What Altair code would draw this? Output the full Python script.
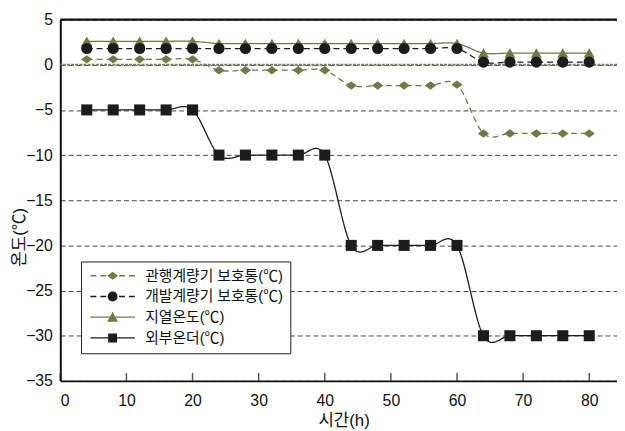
import altair as alt
import pandas as pd

# ---- data ----
hours = [4, 8, 12, 16, 20, 24, 28, 32, 36, 40, 44, 48, 52, 56, 60, 64, 68, 72, 76, 80]
gwanhaeng = [0.6, 0.6, 0.6, 0.6, 0.6, -0.6, -0.6, -0.6, -0.6, -0.6,
             -2.3, -2.3, -2.3, -2.3, -2.2, -7.6, -7.6, -7.6, -7.6, -7.6]
gaebal = [1.8, 1.8, 1.8, 1.8, 1.8, 1.8, 1.8, 1.8, 1.8, 1.8,
          1.8, 1.8, 1.8, 1.8, 1.8, 0.3, 0.3, 0.3, 0.3, 0.3]
jiyeol = [2.6, 2.6, 2.6, 2.6, 2.6, 2.35, 2.35, 2.35, 2.35, 2.35,
          2.35, 2.35, 2.35, 2.35, 2.35, 1.3, 1.3, 1.3, 1.3, 1.3]
oebu = [-5, -5, -5, -5, -5, -10, -10, -10, -10, -10,
        -20, -20, -20, -20, -20, -30, -30, -30, -30, -30]

series_names = ["관행계량기 보호통(℃)", "개발계량기 보호통(℃)", "지열온도(℃)", "외부온더(℃)"]
series_values = [gwanhaeng, gaebal, jiyeol, oebu]
draw_order = [2, 0, 1, 3]

x_ticks = [0, 10, 20, 30, 40, 50, 60, 70, 80]
y_ticks = [5, 0, -5, -10, -15, -20, -25, -30, -35]

OLIVE = "#6d7c47"
BLACK = "#1c1c1c"
colors = [OLIVE, BLACK, OLIVE, BLACK]
dashes = [[6, 4], [6, 4], [1, 0], [1, 0]]
point_shapes = ["M-1,0L0,-0.75L1,0L0,0.75Z", "circle", "triangle-up", "square"]
point_sizes = [130, 125, 125, 88]


# ---- legend glyphs: a thin filled bar (dashed or solid) plus a filled marker ----
def bar(x0, x1, h=0.13):
    return f"M{x0},{-h}L{x1},{-h}L{x1},{h}L{x0},{h}Z"


dashed = bar(-1, 0.2) + bar(1, 2.2) + bar(4.8, 6) + bar(6.8, 8)
solid = bar(-1, 8)

diamond = "M2.4,0L3.5,-0.8L4.6,0L3.5,0.8Z"
circle = "M2.5,0A1,1 0 1,1 4.5,0A1,1 0 1,1 2.5,0Z"
triangle = "M3.5,-1.1L4.6,0.9L2.4,0.9Z"
square = "M2.6,-0.9L4.4,-0.9L4.4,0.9L2.6,0.9Z"

legend_shapes = [dashed + diamond, dashed + circle, solid + triangle, solid + square]

rows = []
for i in draw_order:
    for h, v in zip(hours, series_values[i]):
        rows.append({"series": series_names[i], "x": h, "y": v})
df = pd.DataFrame(rows)
ticks_df = pd.DataFrame({"t": x_ticks})

FONT = "Liberation Sans, Noto Sans CJK KR"

xscale = alt.Scale(domain=[0, 84.2], nice=False, zero=False)
yscale = alt.Scale(domain=[-35, 5], nice=False)

x_enc = alt.X("x:Q", scale=xscale, axis=alt.Axis(
    values=x_ticks, title="시간(h)", ticks=False, grid=False,
    domainColor="#111", domainWidth=2, labelPadding=12,
    titleX=287, titleY=40, titleBaseline="middle", titleAnchor="start", titleAlign="center"))
y_enc = alt.Y("y:Q", scale=yscale, axis=alt.Axis(
    values=y_ticks, title="온도(℃)", ticks=False, grid=True,
    gridDash=[5, 3], gridColor="#444", gridWidth=1,
    domainColor="#111", domainWidth=2, labelPadding=8,
    titleX=-41, titleY=220, titleBaseline="middle", titleAlign="center", titleAngle=270))


def cscale():
    return alt.Scale(domain=series_names, range=colors)


leg = alt.Legend(
    title=None, orient="none", legendX=21, legendY=245,
    padding=7, strokeColor="#222", fillColor="white",
    labelFontSize=15, labelFont=FONT, labelColor="#111",
    rowPadding=5, symbolSize=100, symbolStrokeWidth=0, labelOffset=43,
    symbolOpacity=1,
)

base = alt.Chart(df)

lines = base.mark_line(interpolate="cardinal", strokeWidth=1.3).encode(
    x=x_enc, y=y_enc,
    color=alt.Color("series:N", scale=cscale(), legend=None),
    strokeDash=alt.StrokeDash("series:N", scale=alt.Scale(domain=series_names, range=dashes), legend=None),
    detail="series:N",
    order="x:Q",
)

points = base.mark_point(filled=True, opacity=1).encode(
    x="x:Q", y="y:Q",
    color=alt.Color("series:N", scale=cscale(), legend=None),
    shape=alt.Shape("series:N", scale=alt.Scale(domain=series_names, range=point_shapes), legend=None),
    size=alt.Size("series:N", scale=alt.Scale(domain=series_names, range=point_sizes), legend=None),
)

legend_layer = base.transform_filter("datum.x < 0").mark_point(filled=True, opacity=1).encode(
    x="x:Q", y="y:Q",
    color=alt.Color("series:N", scale=cscale(), legend=leg),
    shape=alt.Shape("series:N", scale=alt.Scale(domain=series_names, range=legend_shapes), legend=leg),
)

zero_line = alt.Chart(pd.DataFrame({"v": [0]})).mark_rule(
    color="#7a7a6e", strokeWidth=2.2, strokeDash=[3, 1.2]).encode(y=alt.Y("v:Q", scale=yscale))
top_line = alt.Chart(pd.DataFrame({"v": [5]})).mark_rule(
    color="#111", strokeWidth=2.5).encode(y=alt.Y("v:Q", scale=yscale))
ticks = alt.Chart(ticks_df).mark_tick(
    orient="vertical", size=8, thickness=1.5, color="#111", yOffset=-4).encode(
    x=alt.X("t:Q", scale=xscale), y=alt.datum(-35))

chart = alt.layer(zero_line, lines, points, legend_layer, top_line, ticks).resolve_scale(
    shape="independent", color="independent"
).properties(
    width=564, height=366,
    autosize=alt.AutoSizeParams(type="none"),
    padding={"left": 53, "top": 9, "right": 0, "bottom": 48},
).configure_view(stroke=None).configure_axis(
    labelFont=FONT, titleFont=FONT, labelFontSize=16, titleFontSize=17,
    labelColor="#111", titleColor="#111", titleFontWeight="normal",
)

chart.save("out.html", embed_options={"renderer": "svg", "actions": False})
